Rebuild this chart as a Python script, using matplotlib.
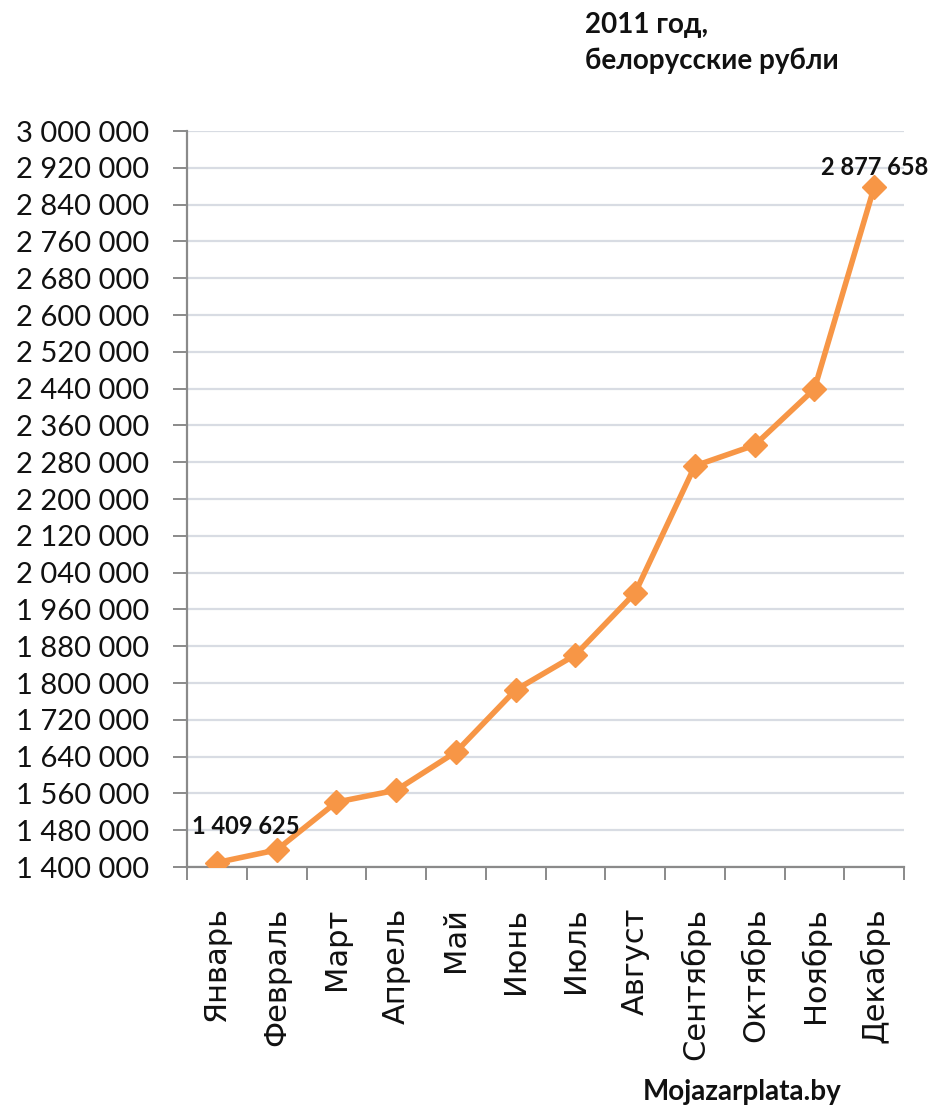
import matplotlib
matplotlib.use("Agg")
import matplotlib.pyplot as plt
from matplotlib.ticker import FuncFormatter, FixedLocator

months = ["Январь", "Февраль", "Март", "Апрель", "Май", "Июнь", "Июль",
          "Август", "Сентябрь", "Октябрь", "Ноябрь", "Декабрь"]
salary = [1409625, 1437000, 1541000, 1567000, 1650000, 1785000, 1861000,
          1996000, 2272000, 2317000, 2439000, 2877658]
y_min, y_max, y_step = 1400000, 3000000, 80000
title_text = "2011 год,\nбелорусские рубли"
source_text = "Mojazarplata.by"

W, H = 930, 1117
fig = plt.figure(figsize=(W / 100, H / 100), dpi=100)
fig.patch.set_facecolor("white")
ax = fig.add_axes([187 / W, 1 - 867 / H, (904 - 187) / W, (867 - 131) / H])

x = list(range(len(months)))
line_col = "#F79646"
ax.plot(x, salary, color=line_col, lw=4.0, marker="D", markersize=12,
        markerfacecolor=line_col, markeredgecolor=line_col, zorder=3,
        solid_joinstyle="round")

ax.set_xlim(-0.5, len(months) - 0.5)
ax.set_ylim(y_min, y_max)
ax.yaxis.set_major_locator(FixedLocator(list(range(y_min, y_max + 1, y_step))))
ax.yaxis.set_major_formatter(FuncFormatter(lambda v, p: f"{v:,.0f}".replace(",", " ")))
ax.grid(axis="y", color="#D8DCE3", lw=1.6, zorder=0)
ax.set_axisbelow(True)

for s in ["top", "right"]:
    ax.spines[s].set_visible(False)
for s in ["left", "bottom"]:
    ax.spines[s].set_color("#8A8A8A")
    ax.spines[s].set_linewidth(1.6)

ax.tick_params(axis="y", direction="out", length=10, width=1.4, color="#8A8A8A",
               pad=17, labelsize=21, labelcolor="#111111")
for lab in ax.get_yticklabels():
    lab.set_family("Lato")

# x ticks: marks at category boundaries, labels at centres
ax.set_xticks(x)
ax.set_xticklabels(months, rotation=90, fontsize=22, family="DejaVu Sans", color="#111111")
ax.tick_params(axis="x", which="major", length=0, pad=29)
ax.xaxis.set_minor_locator(FixedLocator([i - 0.5 for i in range(len(months) + 1)]))
ax.tick_params(axis="x", which="minor", direction="out", length=9, width=1.4, color="#8A8A8A")

# data labels
ax.annotate(f"{salary[0]:,}".replace(",", " "), (x[0], salary[0]), xytext=(21, 26),
            textcoords="offset points", ha="center", va="center",
            fontsize=17, fontweight="bold", family="Lato", color="#111111", zorder=4)
ax.annotate(f"{salary[-1]:,}".replace(",", " "), (x[-1], salary[-1]), xytext=(0, 14),
            textcoords="offset points", ha="center", va="center",
            fontsize=17, fontweight="bold", family="Lato", color="#111111", zorder=4,
            annotation_clip=False)

fig.text(585 / W, 1 - 12 / H, title_text, ha="left", va="top", fontsize=20,
         fontweight="bold", family="Lato", color="#111111", linespacing=1.45)
fig.text(742 / W, 1 - 1092 / H, source_text, ha="center", va="center", fontsize=20,
         fontweight="bold", family="Lato", color="#111111")

fig.savefig("out.png", dpi=100, facecolor="white")
